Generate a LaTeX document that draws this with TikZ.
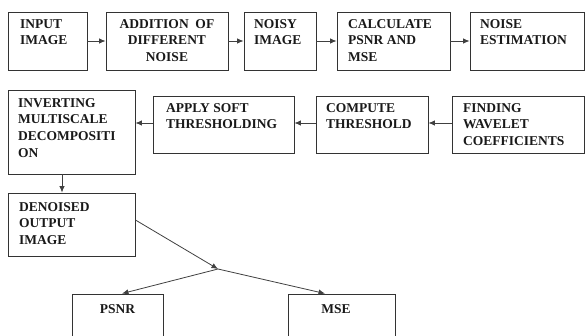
\documentclass[tikz,border=0pt]{standalone}
\usepackage{fontspec}
\setmainfont{Liberation Serif}
\usetikzlibrary{arrows.meta}
\begin{document}
\begin{tikzpicture}[x=1pt,y=-1pt,
 box/.style={draw=black!80,line width=0.9pt,rectangle,inner sep=0pt},
 lbl/.style={font=\fontsize{13.5}{16.7}\selectfont\bfseries, inner sep=0pt, anchor=north west, align=left, text=black!90},
 clbl/.style={lbl, anchor=north, align=center},
 arr/.style={draw=black!75, line width=0.8pt, -{Latex[length=6.5pt,width=5.5pt]}},
 ln/.style={draw=black!75, line width=0.8pt}]
\useasboundingbox (0,0) rectangle (585,335);
% row 1
\node[box, minimum width=79pt, minimum height=58pt] (in) at (47.5,41) {};
\node[box, minimum width=122pt, minimum height=58pt] (add) at (167,41) {};
\node[box, minimum width=72pt, minimum height=58pt] (noisy) at (280,41) {};
\node[box, minimum width=113pt, minimum height=58pt] (calc) at (393.5,41) {};
\node[box, minimum width=114pt, minimum height=58pt] (est) at (527,41) {};
% row 2
\node[box, minimum width=127pt, minimum height=84pt] (inv) at (71.5,132) {};
\node[box, minimum width=141pt, minimum height=57pt] (soft) at (223.5,124.5) {};
\node[box, minimum width=112pt, minimum height=57pt] (thr) at (372,124.5) {};
\node[box, minimum width=132pt, minimum height=57pt] (coef) at (518,124.5) {};
% row 3
\node[box, minimum width=127pt, minimum height=63pt] (den) at (71.5,224.5) {};
\node[box, minimum width=91pt, minimum height=46pt] (psnr) at (117.5,317) {};
\node[box, minimum width=107pt, minimum height=46pt] (mse) at (341.5,317) {};
\coordinate (J) at (218,269);
% labels
\node[lbl] (tin) at (20,19) {INPUT\\IMAGE};
\node[clbl] (tadd) at (167,19) {ADDITION\ \ OF\\DIFFERENT\\NOISE};
\node[lbl] (tnoisy) at (254,19) {NOISY\\IMAGE};
\node[lbl] (tcalc) at (348,19) {CALCULATE\\PSNR AND\\MSE};
\node[lbl] (test) at (480,19) {NOISE\\ESTIMATION};
\node[lbl] (tinv) at (18,98) {INVERTING\\MULTISCALE\\DECOMPOSITI\\ON};
\node[lbl] (tsoft) at (166,103) {APPLY SOFT\\THRESHOLDING};
\node[lbl] (tthr) at (326,103) {COMPUTE\\THRESHOLD};
\node[lbl] (tcoef) at (463,103) {FINDING\\WAVELET\\COEFFICIENTS};
\node[lbl] (tden) at (19,202) {DENOISED\\OUTPUT\\IMAGE};
\node[clbl] (tpsnr) at (117.5,304) {PSNR};
\node[clbl] (tmse) at (336,304) {MSE};
% connectors
\draw[arr] (in.east) -- (add.west);
\draw[arr] (add.east) -- (noisy.west);
\draw[arr] (noisy.east) -- (calc.west);
\draw[arr] (calc.east) -- (est.west);
\draw[arr] ([yshift=1.5pt]coef.west) -- ([yshift=1.5pt]thr.east);
\draw[arr] ([yshift=1.5pt]thr.west) -- ([yshift=1.5pt]soft.east);
\draw[arr] ([yshift=1.5pt]soft.west) -- ([yshift=1.5pt]soft.west -| inv.east);
\draw[arr] ([xshift=-9.5pt]inv.south) -- ([xshift=-9.5pt]den.north);
\draw[arr] ([yshift=4.5pt]den.east) -- (J);
\draw[arr] (J) -- ([xshift=4.5pt]psnr.north);
\draw[arr] (J) -- ([xshift=-16.5pt]mse.north);
\end{tikzpicture}
\end{document}
